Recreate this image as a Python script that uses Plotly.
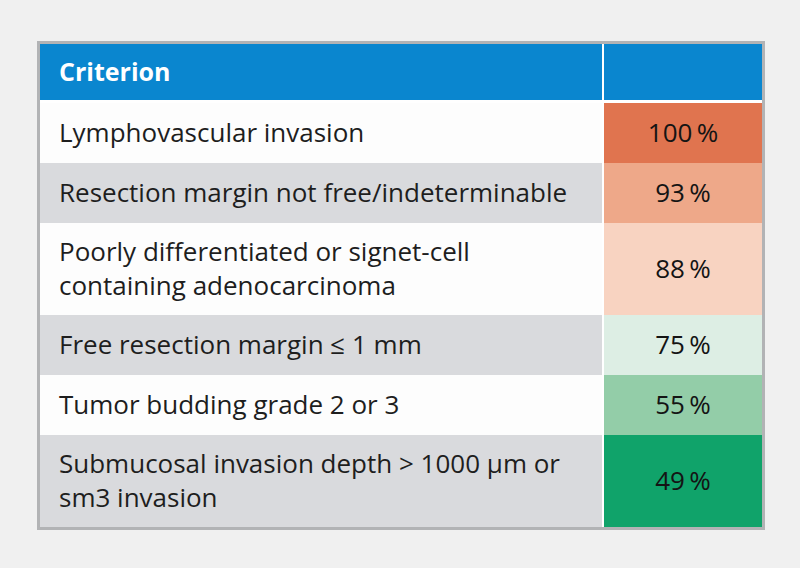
import plotly.graph_objects as go

# ---- data ----
header = ["Criterion", ""]
criteria = [
    "Lymphovascular invasion",
    "Resection margin not free/indeterminable",
    "Poorly differentiated or signet-cell<br>containing adenocarcinoma",
    "Free resection margin ≤ 1 mm",
    "Tumor budding grade 2 or 3",
    "Submucosal invasion depth > 1000 µm or<br>sm3 invasion",
]
percent = [100, 93, 88, 75, 55, 49]

# ---- styles ----
value_colors = ["#e0744f", "#eea889", "#f8d3c1", "#ddeee4", "#93cda8", "#10a36a"]
row_bg = ["#fdfdfd", "#d9dadd"]
header_blue = "#0a86cf"
frame_gray = "#b2b3b5"
page_bg = "#f0f0f0"
font_family = "'Open Sans', Lato, sans-serif"

W = 722           # table width (px units on x axis)
split = 562       # end of label column
val_start = 564   # start of value column
header_h = 56
gap_h = 3
line1_h = 60
line2_h = 92
text_dy = 2.5     # nudge text down to optical centre

heights = [line1_h if c.count("<br>") == 0 else line2_h for c in criteria]
tops = []
y = header_h + gap_h
for h in heights:
    tops.append(y)
    y += h
H = y
centers = [t + h / 2 for t, h in zip(tops, heights)]
text_y = [c + text_dy for c in centers]

fig = go.Figure()

# header cells
fig.add_trace(go.Bar(
    orientation="h", y=[header_h / 2, header_h / 2], base=[0, val_start],
    x=[split, W - val_start], width=[header_h, header_h],
    marker=dict(color=header_blue, line=dict(width=0)), hoverinfo="skip", showlegend=False,
))
# label column cells
fig.add_trace(go.Bar(
    orientation="h", y=centers, base=[0] * len(criteria), x=[split] * len(criteria),
    width=heights,
    marker=dict(color=[row_bg[i % 2] for i in range(len(criteria))], line=dict(width=0)),
    hoverinfo="skip", showlegend=False,
))
# value column cells
fig.add_trace(go.Bar(
    orientation="h", y=centers, base=[val_start] * len(criteria),
    x=[W - val_start] * len(criteria), width=heights,
    marker=dict(color=value_colors, line=dict(width=0)),
    hoverinfo="skip", showlegend=False,
))

# header text
fig.add_trace(go.Scatter(
    x=[19], y=[header_h / 2 + text_dy], mode="text", text=["<b>" + header[0] + "</b>"],
    textposition="middle right",
    textfont=dict(family=font_family, size=25, color="white"),
    hoverinfo="skip", showlegend=False, cliponaxis=False,
))
# label text
fig.add_trace(go.Scatter(
    x=[19] * len(criteria), y=text_y, mode="text", text=criteria,
    textposition="middle right",
    textfont=dict(family=font_family, size=26, color="#1e1e1e"),
    hoverinfo="skip", showlegend=False, cliponaxis=False,
))
# value text
fig.add_trace(go.Scatter(
    x=[(val_start + W) / 2] * len(percent), y=text_y, mode="text",
    text=[f"{p}\u2009%" for p in percent],
    textposition="middle center",
    textfont=dict(family=font_family, size=26, color="#141414"),
    hoverinfo="skip", showlegend=False, cliponaxis=False,
))

fig.update_layout(
    width=800, height=568,
    margin=dict(l=40, r=38, t=44, b=41, pad=0),
    paper_bgcolor=page_bg, plot_bgcolor="#ffffff",
    barmode="overlay", bargap=0,
    xaxis=dict(range=[0, W], showgrid=False, zeroline=False, showticklabels=False,
               ticks="", showline=True, mirror=True, linewidth=3, linecolor=frame_gray,
               fixedrange=True),
    yaxis=dict(range=[H, 0], showgrid=False, zeroline=False, showticklabels=False,
               ticks="", showline=True, mirror=True, linewidth=3, linecolor=frame_gray,
               fixedrange=True),
)

fig.write_html(
    "out.html",
    config={"displayModeBar": False},
    post_script="document.body.style.margin='0';document.body.style.background='#f0f0f0';",
)
